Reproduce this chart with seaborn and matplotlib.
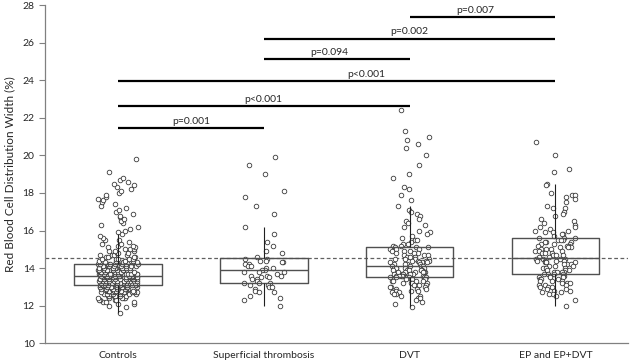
import numpy as np
import pandas as pd
import matplotlib
matplotlib.use("Agg")
import matplotlib.pyplot as plt
import seaborn as sns

categories = ["Controls", "Superficial thrombosis", "DVT", "EP and EP+DVT"]

controls_values = [11.6, 11.9, 12.0, 12.1, 12.2, 12.3, 12.4, 12.5, 12.6, 12.7, 12.8, 12.9,
                   13.0, 13.1, 13.2, 13.3, 13.4, 13.5, 13.6, 13.7, 13.8, 13.9, 14.0, 14.1,
                   14.2, 14.3, 14.4, 14.5, 14.6, 14.7, 14.8, 14.9, 15.0, 15.1, 15.2, 15.3,
                   15.4, 15.5, 15.6, 15.7, 15.8, 15.9, 16.0, 16.1, 16.2, 16.3, 16.4, 16.5,
                   16.6, 16.7, 16.8, 16.9, 17.0, 17.1, 17.2, 17.3, 17.4, 17.5, 17.6, 17.7,
                   17.8, 17.9, 18.0, 18.1, 18.2, 18.3, 18.4, 18.5, 18.6, 18.7, 18.8, 19.1, 19.8]
controls_counts = [1, 1, 1, 2, 3, 4, 5, 6, 7, 9, 11, 12,
                   14, 16, 17, 18, 18, 18, 17, 15, 13, 12, 11, 10,
                   9, 7, 6, 5, 4, 4, 3, 3, 3, 2, 2, 2,
                   1, 2, 1, 1, 1, 1, 1, 1, 1, 1, 1, 1,
                   1, 1, 1, 1, 1, 1, 1, 1, 1, 1, 1, 1,
                   1, 1, 1, 1, 1, 1, 1, 1, 1, 1, 1, 1, 1]

superficial_values = [19.9, 19.5, 19.0, 18.1, 17.8, 17.3, 16.9, 16.2, 15.8, 15.4, 15.2, 14.9,
                      14.8, 14.6, 14.5, 14.5, 14.4, 14.4, 14.3, 14.3, 14.2, 14.2, 14.1, 14.1,
                      14.0, 14.0, 13.9, 13.9, 13.8, 13.8, 13.8, 13.7, 13.6, 13.6, 13.6, 13.5,
                      13.5, 13.4, 13.4, 13.3, 13.2, 13.2, 13.2, 13.1, 13.1, 13.0, 13.0, 12.9,
                      12.8, 12.7, 12.7, 12.5, 12.4, 12.3, 12.0]

dvt_values = [22.4, 21.3, 21.0, 20.8, 20.6, 20.4, 20.0, 19.5, 19.0, 18.8, 18.3, 18.2,
              17.9, 17.6, 17.3, 17.1, 17.0, 16.9, 16.8, 16.6, 16.5, 16.4, 16.3, 16.2,
              16.0, 15.9, 15.8, 15.7, 15.6, 15.5, 15.4, 15.3, 15.2, 15.1, 15.0, 14.9,
              14.8, 14.7, 14.6, 14.5, 14.4, 14.3, 14.2, 14.1, 14.0, 13.9, 13.8, 13.7,
              13.6, 13.5, 13.4, 13.3, 13.2, 13.1, 13.0, 12.9, 12.8, 12.7, 12.6, 12.5,
              12.4, 12.3, 12.2, 12.1, 11.9]
dvt_counts = [1, 1, 1, 1, 1, 1, 1, 1, 1, 1, 1, 1,
              1, 1, 1, 1, 1, 1, 1, 1, 1, 1, 1, 1,
              1, 1, 1, 1, 1, 2, 1, 2, 2, 3, 3, 3,
              3, 3, 3, 4, 4, 4, 4, 4, 5, 6, 6, 6,
              6, 6, 4, 4, 4, 3, 3, 3, 3, 2, 2, 2,
              2, 1, 1, 1, 1]

ep_values = [20.7, 20.0, 19.3, 19.1, 18.5, 18.4, 18.0, 17.9, 17.8, 17.7, 17.5, 17.3,
             17.2, 17.0, 16.9, 16.8, 16.6, 16.5, 16.4, 16.3, 16.2, 16.1, 16.0, 15.9,
             15.8, 15.7, 15.6, 15.5, 15.4, 15.3, 15.2, 15.1, 15.0, 14.9, 14.8, 14.7,
             14.6, 14.5, 14.4, 14.3, 14.2, 14.1, 14.0, 13.9, 13.8, 13.7, 13.6, 13.5,
             13.4, 13.3, 13.2, 13.1, 13.0, 12.9, 12.8, 12.7, 12.6, 12.5, 12.3, 12.0]
ep_counts = [1, 1, 1, 1, 1, 1, 1, 2, 1, 1, 1, 1,
             2, 1, 1, 1, 1, 1, 1, 1, 2, 1, 2, 2,
             2, 1, 3, 3, 3, 3, 3, 3, 3, 3, 3, 3,
             2, 4, 4, 4, 3, 3, 3, 3, 4, 4, 3, 3,
             3, 3, 3, 3, 3, 2, 2, 2, 2, 1, 1, 1]

reference_line = 14.54

comp_start = [0, 0, 0, 1, 1, 2]
comp_end = [1, 2, 3, 2, 3, 3]
comp_height = [21.45, 22.63, 23.98, 25.14, 26.23, 27.37]
comp_label = ["p=0.001", "p<0.001", "p<0.001", "p=0.094", "p=0.002", "p=0.007"]
comp_text_x = [0.5, 1.0, 1.7, 1.45, 2.0, 2.45]

ylabel = "Red Blood Cell Distribution Width (%)"
yticks = [10, 12, 14, 16, 18, 20, 22, 24, 26, 28]

# ---- build long table ----
frames = [
    pd.DataFrame({"group": categories[0], "rdw": np.repeat(controls_values, controls_counts)}),
    pd.DataFrame({"group": categories[1], "rdw": superficial_values}),
    pd.DataFrame({"group": categories[2], "rdw": np.repeat(dvt_values, dvt_counts)}),
    pd.DataFrame({"group": categories[3], "rdw": np.repeat(ep_values, ep_counts)}),
]
df = pd.concat(frames, ignore_index=True)

sns.set_style("white")
plt.rcParams["font.family"] = ["Lato", "DejaVu Sans"]

fig = plt.figure(figsize=(6.3, 3.63), dpi=100)
ax = fig.add_axes([0.0714, 0.055, 0.926, 0.930])

np.random.seed(3)
sns.stripplot(data=df, x="group", y="rdw", order=categories, jitter=0.14,
              color="white", edgecolor="#3a3a3a", linewidth=0.6, size=3.3,
              ax=ax, zorder=2)
sns.boxplot(data=df, x="group", y="rdw", order=categories, width=0.6,
            fill=False, color="#505050", linewidth=1.0, showcaps=False,
            showfliers=False, whis=1.5,
            whiskerprops=dict(color="#202020", linewidth=0.8),
            medianprops=dict(color="#505050", linewidth=1.0),
            ax=ax, zorder=3)

ax.axhline(reference_line, color="#606060", linestyle=(0, (3, 2)), linewidth=0.9, zorder=1)

for s, e, h, lab, tx in zip(comp_start, comp_end, comp_height, comp_label, comp_text_x):
    ax.plot([s, e], [h, h], color="black", linewidth=1.6, solid_capstyle="butt", zorder=4)
    ax.text(tx, h + 0.12, lab, ha="center", va="bottom", fontsize=7.5, color="#262626")

ax.set_xlim(-0.5, 3.5)
ax.set_ylim(10, 28)
ax.set_yticks(yticks)
ax.set_xlabel("")
ax.set_ylabel(ylabel, fontsize=8.5, color="#262626", labelpad=5)
ax.set_xticks(range(len(categories)))
ax.set_xticklabels(categories)
ax.set_xticks([-0.5, 0.5, 1.5, 2.5, 3.5], minor=True)
ax.tick_params(axis="x", which="major", length=0, labelsize=7.5, labelcolor="#262626", pad=6)
ax.tick_params(axis="x", which="minor", length=4, color="#808080", direction="out")
ax.tick_params(axis="y", length=4, color="#808080", direction="out", labelsize=7.5,
               labelcolor="#262626", left=True)
for side in ["top", "right"]:
    ax.spines[side].set_visible(False)
for side in ["left", "bottom"]:
    ax.spines[side].set_color("#808080")
    ax.spines[side].set_linewidth(0.9)

fig.savefig("out.png", dpi=100)
